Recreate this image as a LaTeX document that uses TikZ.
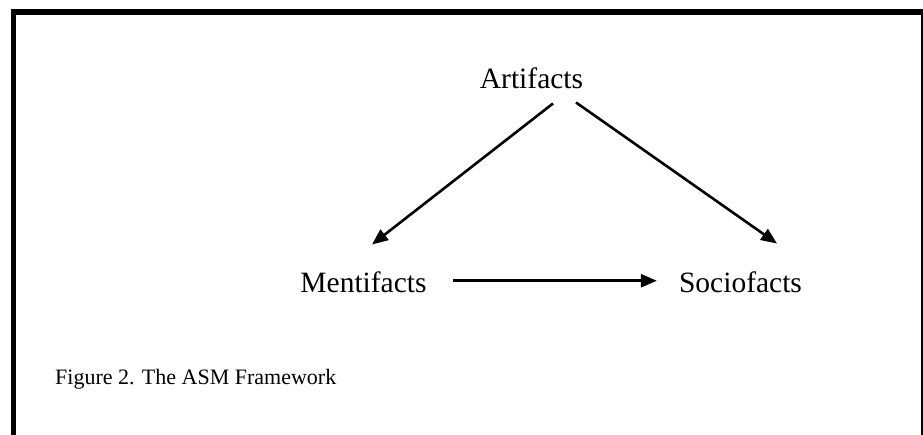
\documentclass[tikz,border=0pt]{standalone}
\usepackage{fontspec}
\setmainfont{Liberation Serif}
\usepackage{tikz}
\usetikzlibrary{arrows.meta}
\tikzstyle{factnode} = [inner sep=0pt, anchor=base, font=\fontsize{29.5}{34}\selectfont]
\tikzstyle{factarrow} = [line width=2.6pt, -{Triangle[length=16pt,width=13pt]}]
\tikzstyle{framecaption} = [inner sep=0pt, anchor=base west, font=\fontsize{22}{26}\selectfont]

\begin{document}
\begin{tikzpicture}[x=1pt,y=1pt]
\useasboundingbox (0,0) rectangle (923,435);
% frame
\draw[line width=5.5pt] (13.5,-5) -- (13.5,423) -- (923,423);
\draw[line width=2pt] (921.5,423) -- (921.5,-5);
% the three facts
\node[factnode] (art) at (531.5,346) {Artifacts};
\node[factnode] (ment) at (363.5,142) {Mentifacts};
\node[factnode] (socio) at (740.5,142) {Sociofacts};
\draw[factarrow] ([xshift=21.5pt,yshift=-14pt]art.south) -- ([xshift=8.5pt,yshift=27.5pt]ment.north);
\draw[factarrow] ([xshift=44.5pt,yshift=-13pt]art.south) -- ([xshift=36.5pt,yshift=28.5pt]socio.north);
\draw[factarrow] ([xshift=26pt,yshift=2pt]ment.east) -- ([xshift=-22pt,yshift=2pt]socio.west);
\node[framecaption] (cap) at (55,50) {Figure 2. The ASM Framework};
\end{tikzpicture}
\end{document}
